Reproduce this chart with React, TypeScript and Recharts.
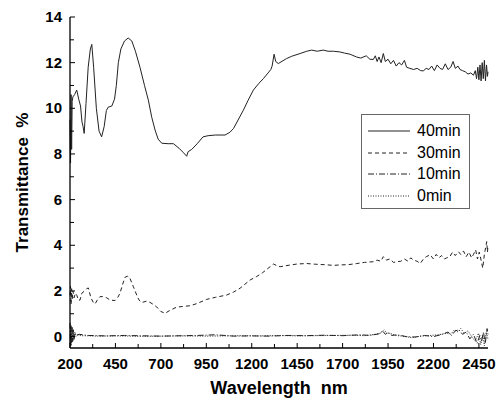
import React from "react";
import { LineChart, Line, XAxis, YAxis, Legend, Label } from "recharts";

// wavelength (nm) / transmittance (%)
const wl40 = [200, 203, 206, 209, 212, 216, 225, 237, 248, 258, 266, 272, 278, 288, 300, 312, 320, 330, 345, 360, 374, 388, 400, 410, 430, 445, 455, 466, 480, 500, 520, 540, 560, 585, 610, 631, 650, 668, 685, 705, 740, 769, 800, 825, 842, 850, 870, 900, 932, 960, 1000, 1053, 1080, 1100, 1154, 1180, 1209, 1240, 1264, 1290, 1305, 1312, 1323, 1332, 1346, 1392, 1420, 1466, 1503, 1530, 1560, 1593, 1620, 1650, 1685, 1710, 1741, 1776, 1800, 1830, 1850, 1869, 1880, 1890, 1900, 1912, 1924, 1935, 1950, 1965, 1980, 1995, 2010, 2025, 2040, 2052, 2070, 2090, 2110, 2130, 2144, 2160, 2175, 2190, 2205, 2220, 2236, 2250, 2265, 2280, 2295, 2308, 2320, 2335, 2346, 2360, 2375, 2390, 2405, 2420, 2430, 2437, 2444, 2450, 2456, 2462, 2468, 2474, 2480, 2486, 2492, 2497, 2500];
const t40 = [9.5, 7.6, 10.6, 8.2, 10.3, 10.5, 10.6, 10.8, 10.4, 10.1, 9.4, 9.2, 8.9, 10.2, 11.8, 12.6, 12.8, 11.8, 10.0, 9.0, 8.75, 9.2, 9.9, 10.05, 10.1, 10.4, 11.0, 12.0, 12.6, 12.95, 13.08, 12.95, 12.5, 11.8, 11.0, 10.36, 9.6, 9.05, 8.65, 8.47, 8.45, 8.45, 8.25, 8.05, 7.9, 8.1, 8.2, 8.45, 8.75, 8.8, 8.83, 8.83, 8.95, 9.12, 9.92, 10.35, 10.8, 11.1, 11.3, 11.55, 11.7, 11.85, 12.37, 12.05, 11.96, 12.18, 12.28, 12.4, 12.5, 12.55, 12.5, 12.55, 12.5, 12.5, 12.47, 12.42, 12.37, 12.25, 12.2, 12.3, 12.15, 12.14, 12.3, 12.05, 12.25, 12.0, 12.4, 12.05, 12.15, 11.95, 12.1, 11.85, 12.0, 11.9, 12.1, 11.8, 11.75, 11.7, 11.75, 11.65, 11.64, 11.75, 11.7, 11.85, 11.65, 11.9, 11.75, 11.7, 11.95, 11.7, 11.8, 12.05, 11.75, 11.85, 11.7, 11.65, 11.6, 11.5, 11.55, 11.45, 11.65, 11.3, 11.8, 11.25, 11.9, 11.2, 12.0, 11.3, 12.1, 11.2, 11.9, 11.4, 11.6];

const wl30 = [200, 203, 206, 209, 212, 216, 222, 230, 238, 245, 255, 265, 280, 292, 301, 315, 328, 338, 350, 365, 380, 402, 420, 448, 462, 475, 490, 503, 518, 530, 548, 567, 580, 594, 620, 640, 660, 677, 700, 723, 750, 787, 820, 860, 900, 952, 1000, 1062, 1100, 1136, 1191, 1227, 1260, 1301, 1319, 1340, 1356, 1400, 1450, 1503, 1550, 1600, 1650, 1686, 1730, 1778, 1820, 1869, 1890, 1910, 1924, 1940, 1960, 1980, 1998, 2020, 2040, 2060, 2075, 2090, 2110, 2127, 2145, 2160, 2182, 2200, 2215, 2230, 2245, 2260, 2273, 2290, 2305, 2320, 2337, 2350, 2365, 2380, 2395, 2410, 2420, 2432, 2442, 2452, 2462, 2471, 2480, 2487, 2493, 2497, 2500];
const t30 = [1.8, 2.2, 1.4, 2.1, 1.6, 2.0, 1.7, 1.9, 1.8, 1.6, 1.6, 1.9, 2.0, 2.1, 2.13, 1.7, 1.5, 1.43, 1.6, 1.75, 1.75, 1.7, 1.6, 1.58, 1.7, 1.9, 2.3, 2.6, 2.65, 2.55, 2.2, 1.82, 1.6, 1.49, 1.55, 1.5, 1.4, 1.3, 1.1, 1.02, 1.15, 1.29, 1.32, 1.35, 1.45, 1.63, 1.72, 1.82, 1.95, 2.12, 2.48, 2.63, 2.8, 3.06, 3.18, 3.1, 3.06, 3.12, 3.18, 3.2, 3.17, 3.15, 3.12, 3.14, 3.15, 3.2, 3.25, 3.28, 3.35, 3.3, 3.5, 3.35, 3.4, 3.25, 3.28, 3.3, 3.4, 3.3, 3.45, 3.35, 3.3, 3.2, 3.4, 3.5, 3.58, 3.4, 3.6, 3.45, 3.55, 3.4, 3.45, 3.5, 3.7, 3.55, 3.72, 3.6, 3.75, 3.5, 3.7, 3.45, 3.6, 3.8, 3.4, 3.7, 3.35, 3.0, 3.6, 3.9, 4.16, 3.7, 4.0];

const wl10 = [200, 203, 206, 209, 212, 215, 218, 222, 228, 235, 250, 300, 400, 500, 700, 900, 1000, 1100, 1200, 1300, 1400, 1500, 1600, 1700, 1800, 1850, 1900, 1920, 1935, 1950, 1970, 2000, 2050, 2100, 2150, 2200, 2250, 2280, 2300, 2320, 2340, 2360, 2380, 2400, 2420, 2440, 2455, 2465, 2475, 2485, 2495, 2500];
const t10 = [0.6, -0.4, 0.5, -0.3, 0.4, -0.2, 0.3, -0.1, 0.15, 0.05, 0.1, 0.05, 0.03, 0.05, 0.02, 0.05, 0.08, 0.02, 0.03, 0.02, 0.05, 0.04, 0.06, 0.04, 0.08, 0.05, 0.12, 0.25, 0.1, 0.2, 0.05, 0.08, 0.0, -0.02, 0.05, 0.0, 0.1, 0.2, 0.05, 0.25, 0.3, 0.1, 0.2, -0.1, 0.1, -0.3, 0.05, -0.2, 0.2, -0.3, 0.35, 0.1];

const wl0 = [200, 204, 207, 210, 214, 217, 221, 226, 232, 240, 260, 350, 450, 600, 800, 950, 1150, 1250, 1350, 1450, 1550, 1650, 1750, 1820, 1880, 1910, 1928, 1945, 1960, 1990, 2030, 2080, 2130, 2180, 2230, 2270, 2295, 2315, 2335, 2350, 2370, 2390, 2410, 2430, 2448, 2460, 2470, 2480, 2490, 2500];
const t0 = [-0.3, 0.5, -0.4, 0.4, -0.25, 0.3, -0.15, 0.2, 0.0, 0.08, 0.04, 0.02, 0.03, 0.01, 0.03, 0.02, 0.04, 0.03, 0.05, 0.03, 0.04, 0.05, 0.06, 0.04, 0.1, 0.15, 0.3, 0.12, 0.15, 0.05, 0.02, -0.05, 0.02, 0.05, 0.08, 0.15, 0.1, 0.3, 0.2, 0.35, 0.15, 0.25, 0.0, -0.2, 0.15, -0.35, 0.1, -0.4, 0.2, -0.1];

const xTicks = [200, 325, 450, 575, 700, 825, 950, 1075, 1200, 1325, 1450, 1575, 1700, 1825, 1950, 2075, 2200, 2325, 2450];
const yTicks = [0, 1, 2, 3, 4, 5, 6, 7, 8, 9, 10, 11, 12, 13, 14];

const zip = (xs: number[], ys: number[]) => xs.map((x, i) => ({ x, y: ys[i] }));

const series = [
  { name: "40min", data: zip(wl40, t40), dash: undefined as string | undefined },
  { name: "30min", data: zip(wl30, t30), dash: "4 3" },
  { name: "10min", data: zip(wl10, t10), dash: "6 2 1 2" },
  { name: "0min", data: zip(wl0, t0), dash: "1 1.5" },
];

const font = "'Liberation Sans', Arial, sans-serif";
const ink = "#222";

const XTick = (props: any) => {
  const { x, y, payload } = props;
  const major = (payload.value - 200) % 250 === 0;
  return (
    <g>
      <line x1={x} x2={x} y1={y} y2={y - (major ? 5 : 4)} stroke="#000" />
      {major && (
        <text x={x} y={y + 21} textAnchor="middle" fontSize={15} fontWeight="bold" fontFamily={font} fill="#000">
          {payload.value}
        </text>
      )}
    </g>
  );
};

const YTick = (props: any) => {
  const { x, y, payload } = props;
  const major = payload.value % 2 === 0;
  return (
    <g>
      <line x1={x} x2={x + (major ? 5 : 4)} y1={y} y2={y} stroke="#000" />
      {major && (
        <text x={x - 8} y={y + 5} textAnchor="end" fontSize={15} fontWeight="bold" fontFamily={font} fill="#000">
          {payload.value}
        </text>
      )}
    </g>
  );
};

const renderLegend = () => (
  <div style={{ border: "1px solid #666", background: "#fff", padding: "5px 0 0 6px", height: 88, fontFamily: font, fontSize: 16 }}>
    {series.map((s) => (
      <div key={s.name} style={{ display: "flex", alignItems: "center", height: 21.7 }}>
        <svg width={44} height={10}>
          <line x1={0} x2={42} y1={5} y2={5} stroke={ink} strokeDasharray={s.dash} />
        </svg>
        <span style={{ marginLeft: 5, color: "#000" }}>{s.name}</span>
      </div>
    ))}
  </div>
);

export default function App() {
  return (
    <div style={{ position: "absolute", left: 0, top: 0 }}>
      <LineChart width={498} height={398} margin={{ top: 17, right: 10, left: 0, bottom: 0 }}>
        <XAxis
          dataKey="x"
          type="number"
          domain={[200, 2500]}
          ticks={xTicks}
          interval={0}
          allowDuplicatedCategory={false}
          height={50}
          tickSize={0}
          tickMargin={0}
          tick={<XTick />}
          axisLine={{ stroke: "#000", strokeWidth: 1.3 }}
        >
          <Label
            value={"Wavelength\u00a0\u00a0nm"}
            position="insideBottom"
            offset={4}
            style={{ fontSize: 18, fontWeight: "bold", fontFamily: font, fill: "#000" }}
          />
        </XAxis>
        <XAxis xAxisId="top" orientation="top" dataKey="x" type="number" domain={[200, 2500]} height={0} tick={false} tickLine={false} axisLine={{ stroke: "#000", strokeWidth: 1.3 }} />
        <YAxis
          dataKey="y"
          type="number"
          domain={[-0.5, 14]}
          ticks={yTicks}
          interval={0}
          width={70}
          tickSize={0}
          tickMargin={0}
          tick={<YTick />}
          axisLine={{ stroke: "#000", strokeWidth: 1.3 }}
        >
          <Label
            value={"Transmittance\u00a0\u00a0%"}
            angle={-90}
            position="insideLeft"
            offset={22}
            style={{ textAnchor: "middle", fontSize: 17, fontWeight: "bold", fontFamily: font, fill: "#000" }}
          />
        </YAxis>
        <YAxis yAxisId="right" orientation="right" dataKey="y" type="number" domain={[-0.5, 14]} width={0} tick={false} tickLine={false} axisLine={{ stroke: "#000", strokeWidth: 1.3 }} />
        <Legend
          layout="vertical"
          align="center"
          verticalAlign="middle"
          content={renderLegend}
          wrapperStyle={{ left: 361, top: 114, width: 109, height: 95 }}
        />
        {series.map((s) => (
          <Line
            key={s.name}
            data={s.data}
            dataKey="y"
            name={s.name}
            type="linear"
            stroke={ink}
            strokeWidth={1}
            strokeDasharray={s.dash}
            dot={false}
            activeDot={false}
            isAnimationActive={false}
          />
        ))}
      </LineChart>
    </div>
  );
}
